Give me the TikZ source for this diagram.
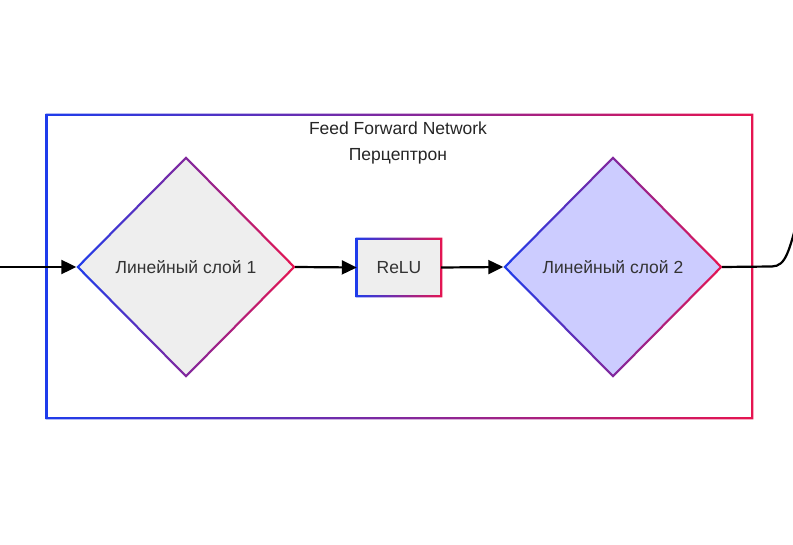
\documentclass[tikz,border=0pt]{standalone}
\usepackage{fontspec}
\setmainfont{Liberation Sans}
\usetikzlibrary{shapes.geometric, arrows.meta}
\definecolor{gblue}{RGB}{30,60,235}
\definecolor{gred}{RGB}{230,20,80}
\definecolor{txt}{RGB}{51,51,51}
\definecolor{boxgray}{RGB}{238,238,238}
\definecolor{lav}{RGB}{204,204,255}
\begin{document}
\begin{tikzpicture}[x=1pt,y=-1pt,
  lbl/.style={font=\fontsize{17.5}{21}\selectfont, text=txt},
  dia/.style={diamond, inner sep=0pt, minimum width=216pt, minimum height=218pt, lbl},
  gshade/.style={even odd rule, left color=gblue, right color=gred, draw=none},
  conn/.style={draw=black, line width=2.2pt, -{Triangle[length=15pt,width=14pt]}},
  plain/.style={draw=black, line width=2.2pt}
]
\fill[white] (0,0) rectangle (793,545);
\clip (0,0) rectangle (793,545);
\useasboundingbox (0,0) rectangle (793,545);

% outer container
\node[inner sep=0pt, minimum width=705pt, minimum height=303pt] (outer) at (399.5,266.5) {};
\shade[gshade]
  ([shift={(-1.1pt,1.1pt)}]outer.north west) rectangle ([shift={(1.1pt,-1.1pt)}]outer.south east)
  ([shift={(1.1pt,-1.1pt)}]outer.north west) rectangle ([shift={(-1.1pt,1.1pt)}]outer.south east);
\node[lbl, text=black!85] (title) at (398,128) {Feed Forward Network};
\node[lbl, text=black!85] (sub) at (398,156) {Перцептрон};

% diamond 1
\node[dia, fill=boxgray] (d1) at (186,267) {Линейный слой 1};
\shade[gshade]
  ([xshift=-1.5pt]d1.west) -- ([yshift=1.5pt]d1.north) -- ([xshift=1.5pt]d1.east) -- ([yshift=-1.5pt]d1.south) -- cycle
  ([xshift=1.5pt]d1.west) -- ([yshift=-1.5pt]d1.north) -- ([xshift=-1.5pt]d1.east) -- ([yshift=1.5pt]d1.south) -- cycle;

% ReLU
\node[lbl, fill=boxgray, inner sep=0pt, minimum width=84pt, minimum height=57pt] (relu) at (399,267.5) {ReLU};
\shade[gshade]
  ([shift={(-1.1pt,1.1pt)}]relu.north west) rectangle ([shift={(1.1pt,-1.1pt)}]relu.south east)
  ([shift={(1.1pt,-1.1pt)}]relu.north west) rectangle ([shift={(-1.1pt,1.1pt)}]relu.south east);

% diamond 2
\node[dia, fill=lav] (d2) at (613,267) {Линейный слой 2};
\shade[gshade]
  ([xshift=-1.5pt]d2.west) -- ([yshift=1.5pt]d2.north) -- ([xshift=1.5pt]d2.east) -- ([yshift=-1.5pt]d2.south) -- cycle
  ([xshift=1.5pt]d2.west) -- ([yshift=-1.5pt]d2.north) -- ([xshift=-1.5pt]d2.east) -- ([yshift=1.5pt]d2.south) -- cycle;

% connectors
\coordinate (in) at (-2,267);
\coordinate (out) at (800,210);
\draw[conn] (in) -- ([xshift=-1.5pt]d1.west);
\draw[conn] ([xshift=1pt]d1.east) -- (relu.west);
\draw[conn] (relu.east) -- ([xshift=-1.5pt]d2.west);
\draw[plain] ([xshift=1pt]d2.east) -- (772,266.5) .. controls (786,266) and (789,252) .. (out);
\end{tikzpicture}
\end{document}
